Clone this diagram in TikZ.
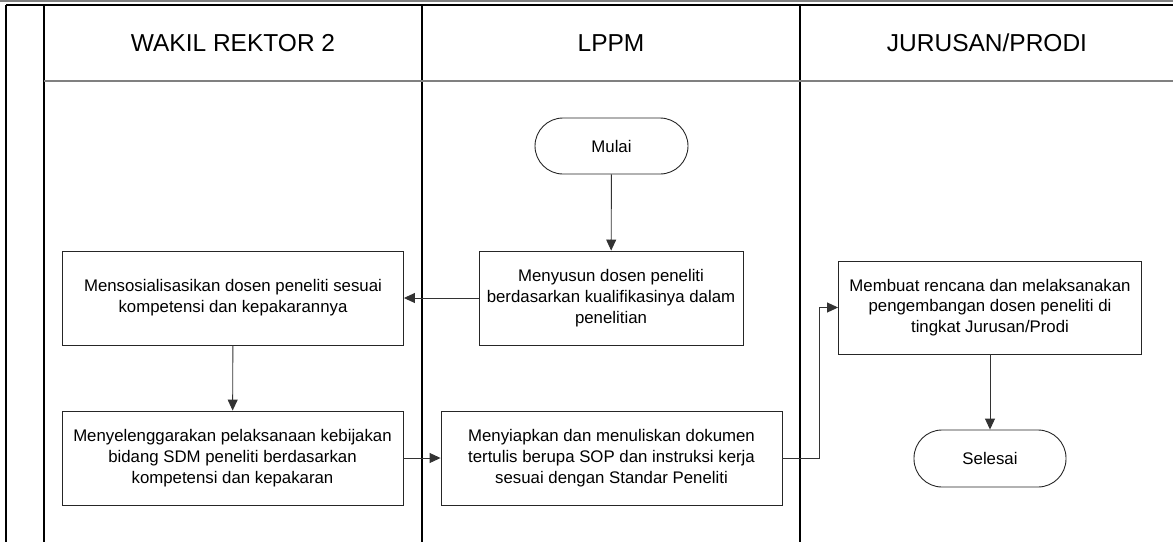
\documentclass[tikz,border=0pt]{standalone}
\usepackage{fontspec}
\setmainfont{Liberation Sans}
\usetikzlibrary{arrows.meta}
\tikzset{>={Triangle[length=11pt,width=10pt]}}
\usepackage[svgnames]{xcolor}

\tikzset{
  proses/.style={draw=black!85, line width=0.9pt, align=center, inner sep=0pt,
    font=\fontsize{16.8}{20.8}\selectfont},
  terminal/.style={proses, rounded corners=28pt, minimum width=153pt, minimum height=56pt},
  judul/.style={font=\fontsize{24.5}{28}\selectfont, inner sep=0pt},
  panah/.style={->, draw=black!80, line width=0.9pt}
}

\begin{document}
\begin{tikzpicture}[x=1pt, y=-1pt]
  \useasboundingbox (0,0) rectangle (1173,542);

  % jalur (swimlane)
  \draw[gray, line width=1.3pt] (0,1) -- (1173,1);
  \draw[line width=1.3pt] (6,5) -- (1173,5);
  \draw[line width=1.3pt] (6,5) -- (6,542);
  \draw[line width=1.3pt] (44,5) -- (44,542);
  \draw[line width=1.3pt] (422,5) -- (422,542);
  \draw[line width=1.3pt] (800,5) -- (800,542);
  \draw[gray, line width=1.3pt] (44,81) -- (1173,81);

  % judul jalur
  \node[judul] (wr2) at (233,43) {WAKIL REKTOR 2};
  \node[judul] (lppm) at (611,43) {LPPM};
  \node[judul] (prodi) at (987,43) {JURUSAN/PRODI};

  % simpul
  \node[terminal] (mulai) at (611.5,146) {Mulai};
  \node[proses, minimum width=264pt, minimum height=94pt] (susun) at (611,298)
    {Menyusun dosen peneliti\\berdasarkan kualifikasinya dalam\\penelitian};
  \node[proses, minimum width=341pt, minimum height=94pt] (sosialisasi) at (233,298)
    {Mensosialisasikan dosen peneliti sesuai\\kompetensi dan kepakarannya};
  \node[proses, minimum width=341pt, minimum height=94pt] (selenggara) at (232.5,458)
    {Menyelenggarakan pelaksanaan kebijakan\\bidang SDM peneliti berdasarkan\\kompetensi dan kepakaran};
  \node[proses, minimum width=341pt, minimum height=94pt] (siapkan) at (611.5,458)
    {Menyiapkan dan menuliskan dokumen\\tertulis berupa SOP dan instruksi kerja\\sesuai dengan Standar Peneliti};
  \node[proses, minimum width=303pt, minimum height=93pt] (membuat) at (990,307.5)
    {Membuat rencana dan melaksanakan\\pengembangan dosen peneliti di\\tingkat Jurusan/Prodi};
  \node[terminal, minimum width=152pt, minimum height=57pt] (selesai) at (990,458.5) {Selesai};

  \coordinate (belok) at (819,458);

  % panah
  \draw[panah] (mulai) -- (susun);
  \draw[panah] (susun) -- (sosialisasi);
  \draw[panah] (sosialisasi) -- (selenggara);
  \draw[panah] (selenggara) -- (siapkan);
  \draw[panah] (siapkan.east) -- (belok) |- (membuat.west);
  \draw[panah] (membuat) -- (selesai);
\end{tikzpicture}
\end{document}
